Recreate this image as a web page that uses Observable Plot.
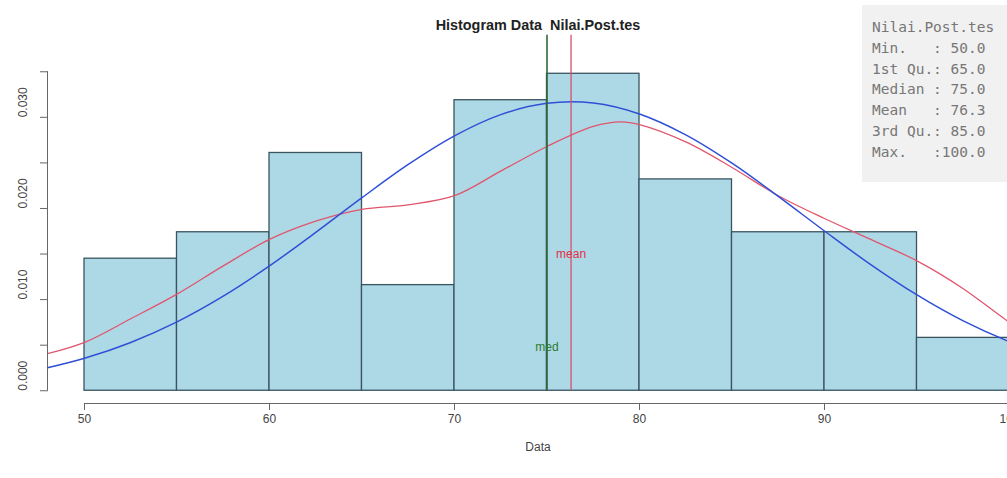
<!DOCTYPE html>
<html>
<head>
<meta charset="utf-8">
<script src="https://cdn.jsdelivr.net/npm/d3@7"></script>
<script src="https://cdn.jsdelivr.net/npm/@observablehq/plot@0.6"></script>
<style>
  html, body { margin: 0; padding: 0; background: #fff; }
  #wrap { position: relative; width: 1007px; height: 478px; overflow: hidden; }
  #summary {
    position: absolute; left: 862px; top: 5px; width: 160px; height: 177px;
    background: #f1f1f1; box-sizing: border-box; padding: 12px 0 0 10px;
    font-family: "DejaVu Sans Mono", "Liberation Mono", monospace; font-size: 14.5px;
    line-height: 20.8px; color: #777; white-space: pre;
  }
</style>
</head>
<body>
<div id="wrap"></div>
<script>
// ---- data ----
const titleText = "Histogram Data  Nilai.Post.tes";
const xLabel = "Data";
const binStart = [50, 55, 60, 65, 70, 75, 80, 85, 90, 95];
const binEnd   = [55, 60, 65, 70, 75, 80, 85, 90, 95, 100];
const density  = [0.01449, 0.01739, 0.02609, 0.01159, 0.03188, 0.03478, 0.02319, 0.01739, 0.01739, 0.00580];

// normal curve (blue)
const normX = [48, 50, 52.5, 55, 57.5, 60, 62.5, 65, 67.5, 70, 72.5, 75, 77.5, 80, 82.5, 85, 87.5, 90, 92.5, 95, 97.5, 100, 102];
const normY = [0.00252, 0.00356, 0.0053, 0.00756, 0.01038, 0.0137, 0.01737, 0.02118, 0.02483, 0.02797, 0.0303, 0.03154, 0.03157, 0.03037, 0.02808, 0.02497, 0.02133, 0.01753, 0.01384, 0.01051, 0.00766, 0.00537, 0.00394];

// kernel density curve (red)
const kdeX = [48, 50, 52.5, 55, 57.5, 60, 62.5, 65, 67.5, 70, 72.5, 75, 77.5, 79, 80, 82.5, 85, 87.5, 90, 92.5, 95, 97.5, 100, 102];
const kdeY = [0.00406, 0.0053, 0.0079, 0.0106, 0.0137, 0.0166, 0.0186, 0.0199, 0.0204, 0.0214, 0.0241, 0.0268, 0.029, 0.0295, 0.0292, 0.0273, 0.0245, 0.0214, 0.0189, 0.0166, 0.01425, 0.0112, 0.0075, 0.005];

const medianVal = 75.0;
const meanVal = 76.3;
const markerLabels = ["med", "mean"];
const markerLabelY = [0.0048, 0.015];
const markerTop = 0.0390;

const xTicks = [50, 60, 70, 80, 90, 100];
const yTicks = [0, 0.005, 0.010, 0.015, 0.020, 0.025, 0.030, 0.035];
const yLabelTicks = [0, 0.010, 0.020, 0.030];
const xDomain = [48, 102];
const yDomain = [-0.0014, 0.0392];

const summaryName = "Nilai.Post.tes";
const summaryLabels = ["Min.   ", "1st Qu.", "Median ", "Mean   ", "3rd Qu.", "Max.   "];
const summaryValues = [" 50.0", " 65.0", " 75.0", " 76.3", " 85.0", "100.0"];

// ---- build tables ----
const bins = binStart.map((s, i) => ({x1: s, x2: binEnd[i], d: density[i]}));
const normPts = normX.map((x, i) => ({x, y: normY[i]}));
const kdePts = kdeX.map((x, i) => ({x, y: kdeY[i]}));
const xMid = (xDomain[0] + xDomain[1]) / 2;

const axisColor = "#666";

const chart = Plot.plot({
  width: 1007,
  height: 478,
  marginTop: 33,
  marginBottom: 75,
  marginLeft: 48,
  marginRight: 0,
  x: {domain: xDomain, range: [47, 1046]},
  y: {domain: yDomain, range: [403, 33]},
  style: {fontFamily: "'Liberation Sans', Arial, sans-serif", fontSize: "12px", color: "#444", background: "white", overflow: "hidden"},
  marks: [
    Plot.rect(bins, {x1: "x1", x2: "x2", y1: 0, y2: "d", fill: "#add8e6", stroke: "#3a5560", strokeWidth: 1.3}),
    Plot.line(kdePts, {x: "x", y: "y", stroke: "#e0566e", strokeWidth: 1.3, curve: "catmull-rom"}),
    Plot.line(normPts, {x: "x", y: "y", stroke: "#2f4fd6", strokeWidth: 1.5, curve: "catmull-rom"}),
    Plot.ruleX([medianVal], {y1: 0, y2: markerTop, stroke: "#2d6a3a", strokeWidth: 1.6}),
    Plot.ruleX([meanVal], {y1: 0, y2: markerTop, stroke: "#d9506a", strokeWidth: 1.3}),
    Plot.text([medianVal, meanVal], {x: d => d, y: (d, i) => markerLabelY[i], text: (d, i) => markerLabels[i],
      fill: (d, i) => i === 0 ? "#2e7a2e" : "#e0304a", fontSize: 12}),
    // axes
    Plot.ruleY([yDomain[0]], {x1: xTicks[0], x2: xTicks[xTicks.length - 1], stroke: axisColor}),
    Plot.axisX({ticks: xTicks, tickSize: 7, tickPadding: 4, fontSize: 12, label: null, stroke: axisColor, color: "#444"}),
    Plot.ruleX([xDomain[0]], {y1: yTicks[0], y2: yTicks[yTicks.length - 1], stroke: axisColor}),
    Plot.axisY({ticks: yTicks, tickSize: 8, tickFormat: () => "", label: null, stroke: axisColor}),
    Plot.text(yLabelTicks, {y: d => d, text: d => d.toFixed(3), frameAnchor: "left", dx: -25, rotate: -90, fontSize: 12, fill: "#444"}),
    Plot.text([xLabel], {x: xMid, frameAnchor: "bottom", dx: -9, dy: 47, fontSize: 12, fill: "#444"}),
    Plot.text([titleText], {x: xMid, frameAnchor: "top", dx: -9, dy: -14, fontSize: 14.4, fontWeight: "bold", fill: "#222"})
  ]
});

const wrap = document.getElementById("wrap");
wrap.appendChild(chart);
const box = document.createElement("div");
box.id = "summary";
box.textContent = [summaryName, ...summaryLabels.map((l, i) => l + ":" + summaryValues[i])].join("\n");
wrap.appendChild(box);
</script>
</body>
</html>
